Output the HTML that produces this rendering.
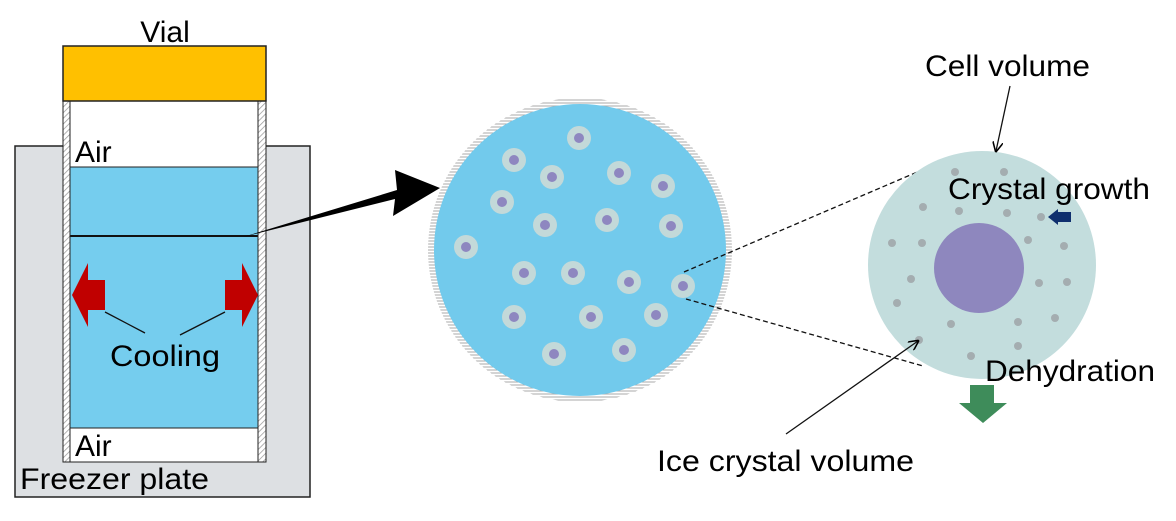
<!DOCTYPE html>
<html><head><style>
body{margin:0;background:#fff;}
svg text{font-family:"Liberation Sans",sans-serif;font-size:30px;fill:#000;}
</style></head><body>
<svg width="1176" height="516" viewBox="0 0 1176 516" xmlns="http://www.w3.org/2000/svg">
<defs>
<pattern id="h" width="4" height="4" patternUnits="userSpaceOnUse" patternTransform="rotate(45)">
<rect width="4" height="4" fill="#fff"/><line x1="0" y1="0" x2="0" y2="4" stroke="#999" stroke-width="1.5"/></pattern>
<pattern id="hz" width="4" height="3" patternUnits="userSpaceOnUse">
<rect width="4" height="3" fill="#fff"/><line x1="0" y1="1" x2="4" y2="1" stroke="#aaa" stroke-width="1"/></pattern>
<marker id="ah" markerWidth="8" markerHeight="8" refX="7" refY="4" orient="auto"><path d="M0,0 L8,4 L0,8" fill="none" stroke="#000" stroke-width="1.2"/></marker>
</defs>
<rect x="15" y="146" width="295" height="351" fill="#DDE0E3" stroke="#222" stroke-width="1.5"/>
<rect x="70" y="101" width="188" height="66" fill="#fff"/>
<rect x="70" y="167" width="188" height="261" fill="#75CDEE" stroke="#222" stroke-width="1"/>
<rect x="70" y="428" width="188" height="34" fill="#fff" stroke="#222" stroke-width="1"/>
<line x1="63" y1="236" x2="266" y2="236" stroke="#111" stroke-width="2"/>
<rect x="63" y="101" width="7" height="361" fill="url(#h)" stroke="#222" stroke-width="1"/>
<rect x="258" y="101" width="8" height="361" fill="url(#h)" stroke="#222" stroke-width="1"/>
<rect x="63" y="46" width="203" height="55" fill="#FFC000" stroke="#222" stroke-width="1.5"/>
<text x="165" y="42" text-anchor="middle">Vial</text>
<text x="75" y="162">Air</text>
<text x="75" y="456">Air</text>
<text x="20" y="489" textLength="189" lengthAdjust="spacingAndGlyphs">Freezer plate</text>
<polygon points="72,295 88,263 88,280 105,280 105,310 88,310 88,327" fill="#C00000"/>
<polygon points="258,295 242,263 242,280 225,280 225,310 242,310 242,327" fill="#C00000"/>
<line x1="105" y1="312" x2="145" y2="333" stroke="#111" stroke-width="1.3"/>
<line x1="225" y1="312" x2="180" y2="335" stroke="#111" stroke-width="1.3"/>
<text x="110" y="366" textLength="110" lengthAdjust="spacingAndGlyphs">Cooling</text>
<polygon points="243,237 395,199 393,216 440,188 395,170 397,190" fill="#000"/>
<circle cx="580" cy="250" r="152" fill="url(#hz)"/>
<circle cx="580" cy="250" r="146" fill="#72CAEC"/>
<g fill="#C3D9D9">
<circle cx="579" cy="138" r="12"/><circle cx="514" cy="160" r="12"/><circle cx="552" cy="177" r="12"/><circle cx="619" cy="173" r="12"/><circle cx="663" cy="186" r="12"/><circle cx="502" cy="202" r="12"/><circle cx="545" cy="225" r="12"/><circle cx="607" cy="220" r="12"/><circle cx="671" cy="226" r="12"/><circle cx="466" cy="247" r="12"/><circle cx="524" cy="273" r="12"/><circle cx="573" cy="273" r="12"/><circle cx="629" cy="282" r="12"/><circle cx="683" cy="286" r="12"/><circle cx="514" cy="317" r="12"/><circle cx="591" cy="317" r="12"/><circle cx="656" cy="315" r="12"/><circle cx="554" cy="354" r="12"/><circle cx="624" cy="350" r="12"/>
</g>
<g fill="#8E87C0">
<circle cx="579" cy="138" r="5"/><circle cx="514" cy="160" r="5"/><circle cx="552" cy="177" r="5"/><circle cx="619" cy="173" r="5"/><circle cx="663" cy="186" r="5"/><circle cx="502" cy="202" r="5"/><circle cx="545" cy="225" r="5"/><circle cx="607" cy="220" r="5"/><circle cx="671" cy="226" r="5"/><circle cx="466" cy="247" r="5"/><circle cx="524" cy="273" r="5"/><circle cx="573" cy="273" r="5"/><circle cx="629" cy="282" r="5"/><circle cx="683" cy="286" r="5"/><circle cx="514" cy="317" r="5"/><circle cx="591" cy="317" r="5"/><circle cx="656" cy="315" r="5"/><circle cx="554" cy="354" r="5"/><circle cx="624" cy="350" r="5"/>
</g>
<line x1="684" y1="272" x2="922" y2="170" stroke="#111" stroke-width="1.3" stroke-dasharray="5,3"/>
<line x1="686" y1="299" x2="923" y2="366" stroke="#111" stroke-width="1.3" stroke-dasharray="5,3"/>
<circle cx="982" cy="265" r="114" fill="#C3DDDD"/>
<circle cx="979" cy="268" r="45" fill="#8E87BE"/>
<g fill="#A4ADB0">
<circle cx="955" cy="172" r="4"/><circle cx="1004" cy="172" r="4"/><circle cx="923" cy="207" r="4"/><circle cx="959" cy="211" r="4"/><circle cx="1007" cy="213" r="4"/><circle cx="1041" cy="217" r="4"/><circle cx="892" cy="243" r="4"/><circle cx="922" cy="243" r="4"/><circle cx="1028" cy="240" r="4"/><circle cx="1064" cy="246" r="4"/><circle cx="911" cy="279" r="4"/><circle cx="1039" cy="283" r="4"/><circle cx="1067" cy="282" r="4"/><circle cx="897" cy="303" r="4"/><circle cx="951" cy="324" r="4"/><circle cx="1018" cy="322" r="4"/><circle cx="1055" cy="318" r="4"/><circle cx="919" cy="340" r="4"/><circle cx="1018" cy="346" r="4"/><circle cx="971" cy="356" r="4"/>
</g>
<text x="925" y="76" textLength="165" lengthAdjust="spacingAndGlyphs">Cell volume</text>
<line x1="1010" y1="86" x2="996" y2="151" stroke="#111" stroke-width="1.3" marker-end="url(#ah)"/>
<text x="948" y="199" textLength="202" lengthAdjust="spacingAndGlyphs">Crystal growth</text>
<polygon points="1048,217 1058,209 1058,212 1071,212 1071,222 1058,222 1058,225" fill="#0F2F6E"/>
<text x="985" y="381" textLength="170" lengthAdjust="spacingAndGlyphs">Dehydration</text>
<polygon points="970,385 994,385 994,403 1007,403 983,423 959,403 970,403" fill="#3E8C5A"/>
<text x="657" y="471" textLength="257" lengthAdjust="spacingAndGlyphs">Ice crystal volume</text>
<line x1="786" y1="434" x2="918" y2="341" stroke="#111" stroke-width="1.3" marker-end="url(#ah)"/>
</svg>
</body></html>
